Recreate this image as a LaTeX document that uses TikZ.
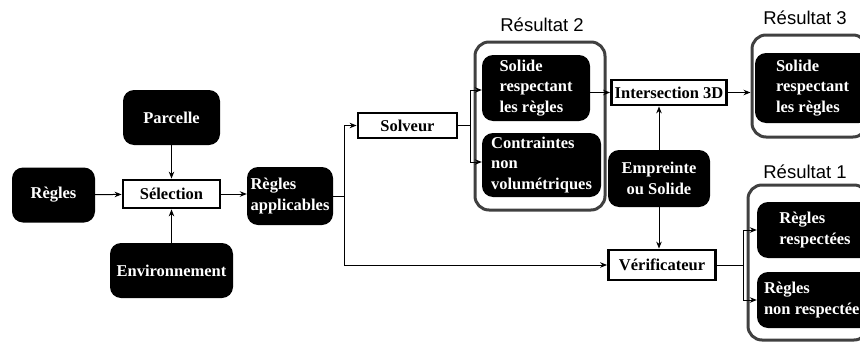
\documentclass[tikz,border=0pt]{standalone}
\usepackage{fontspec}
\setmainfont{Liberation Serif}
\newfontfamily\titlefont{Liberation Sans}
\usetikzlibrary{arrows.meta}
\definecolor{resgray}{HTML}{404040}
\begin{document}
\begin{tikzpicture}[x=1pt,y=-1pt,
  txt/.style={font=\fontsize{16.5}{20.5}\selectfont\bfseries},
  blk/.style={txt,fill=black,text=white,rounded corners=11pt,inner sep=0pt,align=left},
  wbox/.style={txt,draw=black,line width=2.8pt,fill=white,inner sep=0pt},
  res/.style={draw=resgray,line width=3pt,rounded corners=14pt,inner sep=0pt},
  ttl/.style={font=\titlefont\fontsize{18.5}{22}\selectfont},
  arr/.style={line width=1pt,-{Stealth[length=7pt,width=5.5pt]}},
  ln/.style={line width=1pt}]
\useasboundingbox (0,0) rectangle (860,343);
% left part
\node[blk,minimum width=83pt,minimum height=55pt] (regles) at (53.5,195) {Règles};
\node[blk,minimum width=97pt,minimum height=55pt] (parcelle) at (171.5,117.5) {Parcelle};
\node[blk,minimum width=123pt,minimum height=55pt] (env) at (171.5,270.5) {Environnement};
\node[wbox,minimum width=97pt,minimum height=28pt] (sel) at (171.5,194) {Sélection};
\node[blk,minimum width=86pt,minimum height=58pt] (app) at (290,196) {Règles\\applicables};
% Résultat 2
\node[res,minimum width=130pt,minimum height=168pt] (r2) at (540,126) {};
\node[ttl] (t2) at (542,25) {Résultat 2};
\node[blk,minimum width=108pt,minimum height=66pt] (s2) at (536,88) {Solide\\respectant\\les règles};
\node[blk,minimum width=119pt,minimum height=64pt] (c2) at (541.5,165) {Contraintes\\non\\volumétriques};
\node[wbox,minimum width=99pt,minimum height=25pt] (solv) at (407.5,125.5) {Solveur};
% middle right
\node[wbox,minimum width=115pt,minimum height=25pt] (inter) at (669,92.5) {Intersection 3D};
\node[blk,minimum width=102pt,minimum height=57pt,align=center] (emp) at (659,178.5) {Empreinte\\ou Solide};
\node[wbox,minimum width=107pt,minimum height=30pt] (verif) at (662,265) {Vérificateur};
% Résultat 3
\node[res,minimum width=115pt,minimum height=102pt] (r3) at (809.5,86) {};
\node[ttl] (t3) at (805,18) {Résultat 3};
\node[blk,minimum width=115pt,minimum height=70pt] (s3) at (812.5,88) {Solide\\respectant\\les règles};
% Résultat 1
\node[res,minimum width=120pt,minimum height=155pt] (r1) at (808,262.5) {};
\node[ttl] (t1) at (805,172) {Résultat 1};
\node[blk,minimum width=116pt,minimum height=56pt] (rr) at (815,230) {Règles\\respectées};
\node[blk,minimum width=116pt,minimum height=56pt] (rn) at (815,300) {Règles\\non respectées};
% connectors left
\draw[arr] (regles) -- (sel);
\draw[arr] (parcelle) -- (sel);
\draw[arr] (env) -- (sel);
\draw[arr] (sel) -- (app.west |- sel);
\coordinate (tr) at (344,196);
\draw[ln] (app.east |- tr) -- (tr);
\draw[ln] (tr |- solv) -- (tr |- verif);
\draw[arr] (tr |- solv) -- (solv.west);
\draw[arr] (tr |- verif) -- (verif.west);
% solver branch
\coordinate (sb) at (470,125.5);
\draw[ln] (solv.east) -- (sb);
\draw[arr] (sb) |- (s2.west |- 0,90);
\draw[arr] (sb) |- (c2.west |- 0,162);
\draw[arr] (s2.east |- inter) -- (inter.west);
\draw[arr] (inter.east) -- (r3.west |- inter);
\draw[arr] (emp.north) -- (emp.north |- inter.south);
\draw[arr] (emp.south) -- (emp.south |- verif.north);
% verif branch
\coordinate (vb) at (743,265);
\draw[ln] (verif.east) -- (vb);
\draw[arr] (vb) |- (rr.west);
\draw[arr] (vb) |- (rn.west);
\end{tikzpicture}
\end{document}
